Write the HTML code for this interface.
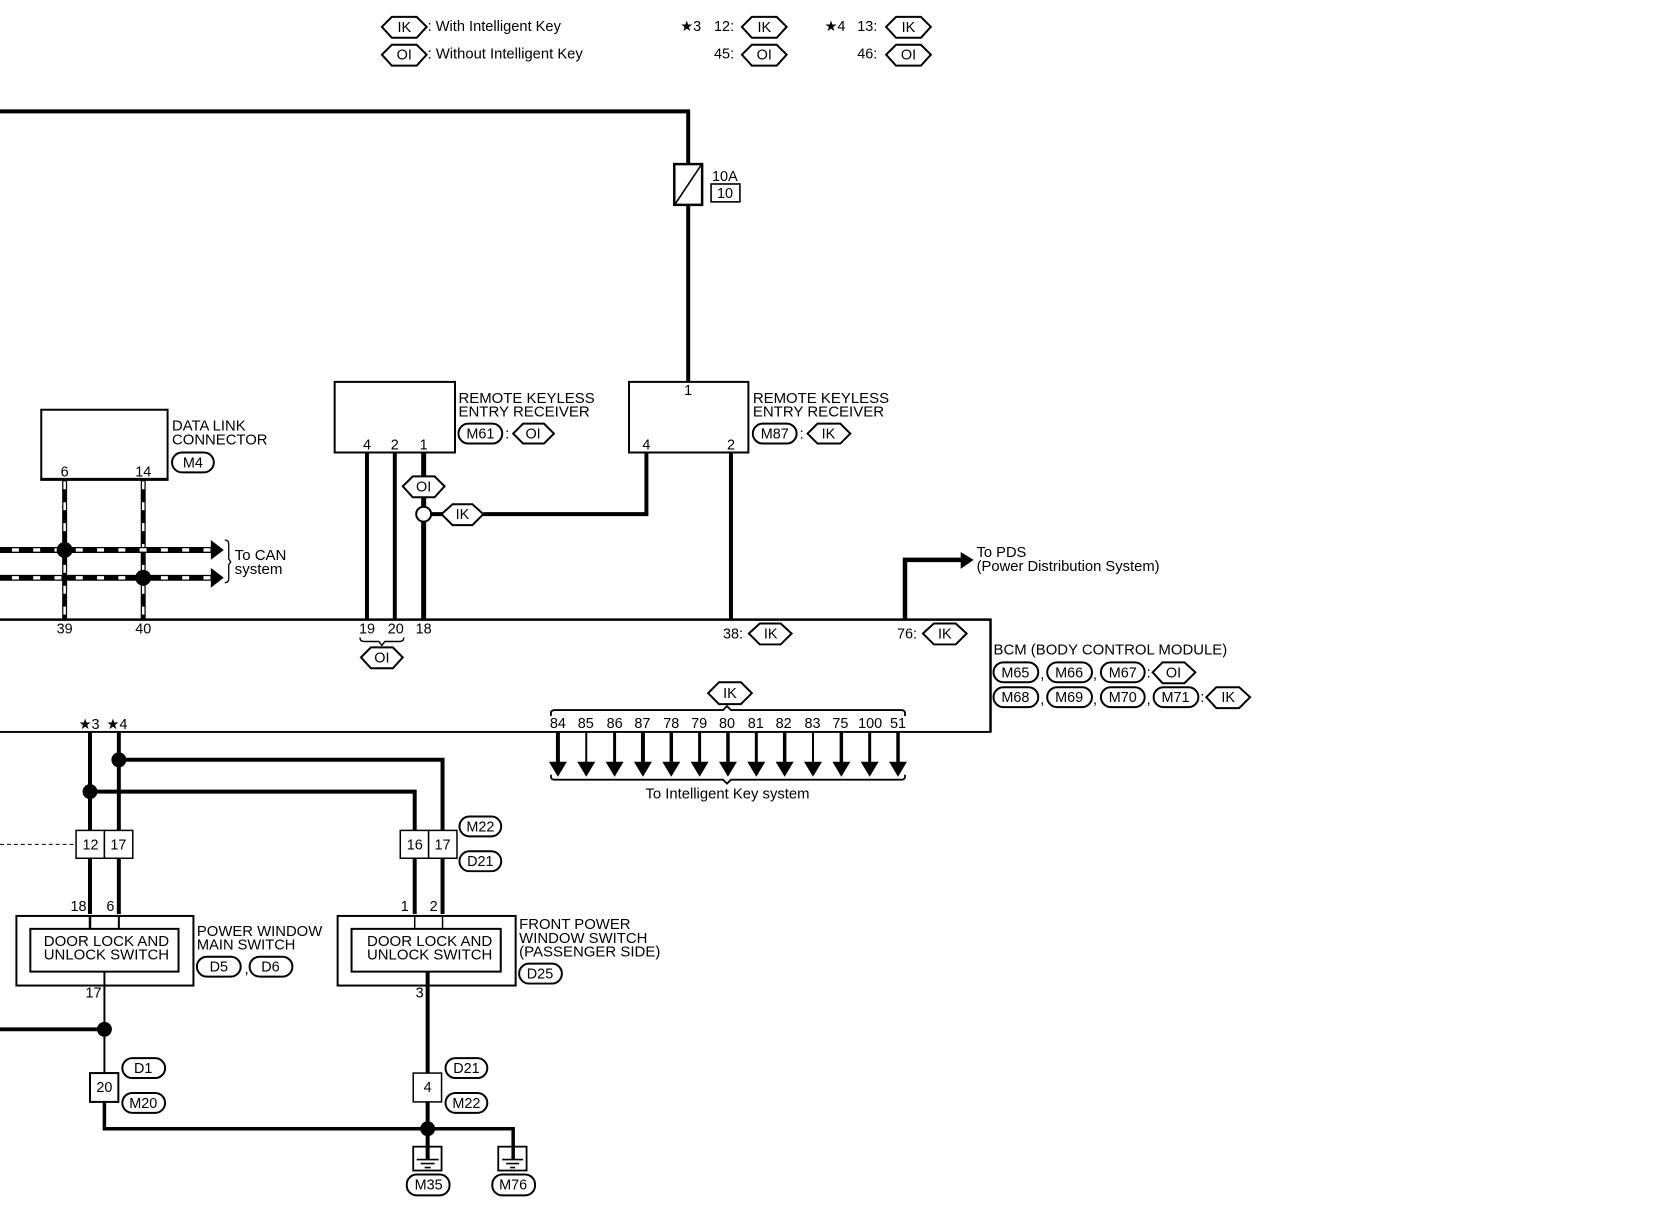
<!DOCTYPE html>
<html><head><meta charset="utf-8"><title>Wiring diagram</title>
<style>
html,body{margin:0;padding:0;background:#fff;width:1660px;height:1216px;overflow:hidden}
svg{display:block}
text{font-family:"Liberation Sans",sans-serif;font-size:14.5px;fill:#000}
.m{text-anchor:middle}
.n{font-size:14.5px}
.h{fill:#fff;stroke:#000;stroke-width:2}
.p{fill:#fff;stroke:#000;stroke-width:2}
.b{fill:#fff;stroke:#000;stroke-width:2}
.w{fill:none;stroke:#000;stroke-width:4}
</style></head><body>
<svg xmlns="http://www.w3.org/2000/svg" width="1660" height="1216" viewBox="0 0 1660 1216">
<rect width="1660" height="1216" fill="#fff"/>
<g transform="scale(0.9945)">

<!-- top legend -->
<polygon class="h" points="384,27 394,17 419,17 429,27 419,38 394,38"/><text class="m" x="406.500" y="32">IK</text>
<text x="430" y="31" textLength="134" lengthAdjust="spacingAndGlyphs">: With Intelligent Key</text>
<polygon class="h" points="384,55 394,45 419,45 429,55 419,66 394,66"/><text class="m" x="406.500" y="60">OI</text>
<text x="430" y="59" textLength="156" lengthAdjust="spacingAndGlyphs">: Without Intelligent Key</text>
<text x="684" y="31">★3</text><text x="718" y="31">12:</text>
<polygon class="h" points="746,27 756,17 781,17 791,27 781,38 756,38"/><text class="m" x="768.500" y="32">IK</text>
<text x="718" y="59">45:</text>
<polygon class="h" points="746,55 756,45 781,45 791,55 781,66 756,66"/><text class="m" x="768.500" y="60">OI</text>
<text x="829" y="31">★4</text><text x="862" y="31">13:</text>
<polygon class="h" points="891,27 901,17 926,17 936,27 926,38 901,38"/><text class="m" x="913.500" y="32">IK</text>
<text x="862" y="59">46:</text>
<polygon class="h" points="891,55 901,45 926,45 936,55 926,66 901,66"/><text class="m" x="913.500" y="60">OI</text>

<!-- top wire and fuse -->
<polyline class="w" points="0,112 692,112 692,384"/>
<rect x="678" y="165" width="28" height="41" fill="#fff" stroke="#000" stroke-width="2.5"/>
<line x1="679" y1="205" x2="705" y2="166" stroke="#000" stroke-width="1.6"/>
<text x="716" y="182" class="n">10A</text>
<rect x="715" y="185" width="29" height="18" fill="#fff" stroke="#000" stroke-width="1.6"/><text class="m n" x="729" y="199">10</text>

<!-- Receivers -->
<rect x="336.500" y="384" width="121" height="71" fill="#fff" stroke="#000" stroke-width="2"/>
<text class="m n" x="369" y="452">4</text><text class="m n" x="397" y="452">2</text><text class="m n" x="426" y="452">1</text>
<text x="461" y="405" textLength="137" lengthAdjust="spacingAndGlyphs">REMOTE KEYLESS</text>
<text x="461" y="419" textLength="132" lengthAdjust="spacingAndGlyphs">ENTRY RECEIVER</text>
<rect class="p" x="461" y="426" width="44" height="20" rx="10"/><text class="m" x="483" y="441">M61</text>
<text x="508" y="441">:</text>
<polygon class="h" points="516,436 526,426 547,426 557,436 547,446 526,446"/><text class="m" x="536" y="441">OI</text>

<rect x="632.500" y="384" width="120" height="71" fill="#fff" stroke="#000" stroke-width="2"/>
<text class="m n" x="692" y="397">1</text><text class="m n" x="650" y="452">4</text><text class="m n" x="735" y="452">2</text>
<text x="757" y="405" textLength="137" lengthAdjust="spacingAndGlyphs">REMOTE KEYLESS</text>
<text x="757" y="419" textLength="132" lengthAdjust="spacingAndGlyphs">ENTRY RECEIVER</text>
<rect class="p" x="757" y="426" width="44" height="20" rx="10"/><text class="m" x="779" y="441">M87</text>
<text x="804" y="441">:</text>
<polygon class="h" points="812,436 822,426 845,426 855,436 845,446 822,446"/><text class="m" x="833" y="441">IK</text>

<!-- wires to BCM -->
<line class="w" x1="369" y1="455" x2="369" y2="623"/>
<line class="w" x1="397" y1="455" x2="397" y2="623"/>
<line class="w" x1="426" y1="455" x2="426" y2="623" style="stroke-width:5"/>
<polyline class="w" points="486,517 650,517 650,455"/>
<line class="w" x1="735" y1="455" x2="735" y2="623"/>
<polygon class="h" points="405,489 415,479 437,479 447,489 437,500 415,500"/><text class="m" x="426" y="494">OI</text>
<line class="w" x1="426" y1="517" x2="446" y2="517"/>
<circle cx="426" cy="517" r="7.500" fill="#fff" stroke="#000" stroke-width="2"/>
<polygon class="h" points="444,517 455,507 475,507 486,517 475,528 455,528"/><text class="m" x="465" y="522">IK</text>

<!-- Data link connector -->
<rect x="41.500" y="412" width="127" height="70" fill="#fff" stroke="#000" stroke-width="2"/>
<line x1="40.500" y1="482" x2="169.500" y2="482" stroke="#000" stroke-width="3"/>
<text class="m n" x="65" y="479">6</text><text class="m n" x="144" y="479">14</text>
<text x="173" y="433" textLength="74" lengthAdjust="spacingAndGlyphs">DATA LINK</text>
<text x="173" y="447" textLength="96" lengthAdjust="spacingAndGlyphs">CONNECTOR</text>
<rect class="p" x="173" y="455" width="42" height="20" rx="10"/><text class="m" x="194" y="470">M4</text>

<!-- CAN -->
<line x1="65" y1="482" x2="65" y2="623" stroke="#000" stroke-width="5"/>
<line x1="144" y1="482" x2="144" y2="623" stroke="#000" stroke-width="5"/>
<line x1="65" y1="484" x2="65" y2="623" stroke="#fff" stroke-width="2.500" stroke-dasharray="8 13"/>
<line x1="144" y1="484" x2="144" y2="623" stroke="#fff" stroke-width="2.500" stroke-dasharray="8 13"/>
<line x1="0" y1="553" x2="213" y2="553" stroke="#000" stroke-width="6"/>
<line x1="0" y1="581" x2="213" y2="581" stroke="#000" stroke-width="6"/>
<line x1="12" y1="553" x2="212" y2="553" stroke="#fff" stroke-width="3.400" stroke-dasharray="7 14.400"/>
<line x1="12" y1="581" x2="212" y2="581" stroke="#fff" stroke-width="3.400" stroke-dasharray="7 14.400"/>
<polygon points="212,543 225,553 212,563" fill="#000"/>
<polygon points="212,571 225,581 212,591" fill="#000"/>
<circle cx="65" cy="553" r="8" fill="#000"/><circle cx="144" cy="581" r="8" fill="#000"/>
<path d="M226,543 Q230,543 230,547 L230,562 L232,565 L230,568 L230,582 Q230,586 226,586" fill="none" stroke="#000" stroke-width="1.300"/>
<text x="236" y="563" textLength="52" lengthAdjust="spacingAndGlyphs">To CAN</text>
<text x="236" y="577" textLength="48" lengthAdjust="spacingAndGlyphs">system</text>

<!-- BCM outline -->
<polyline fill="none" stroke="#000" stroke-width="2.500" points="0,623 996,623 996,736"/>
<line x1="0" y1="736" x2="997" y2="736" stroke="#000" stroke-width="1.800"/>
<text class="m n" x="65" y="637">39</text><text class="m n" x="144" y="637">40</text>
<text class="m n" x="369" y="637">19</text><text class="m n" x="398" y="637">20</text><text class="m n" x="426" y="637">18</text>
<path d="M362,641 Q362,645 366,645 L381,645 L384,649 L387,645 L402,645 Q406,645 406,641" fill="none" stroke="#000" stroke-width="1.500"/>
<polygon class="h" points="363,661 373,651 395,651 405,661 395,672 373,672"/><text class="m" x="384" y="666">OI</text>

<text class="n" x="727" y="642">38:</text>
<polygon class="h" points="753,637 764,627 785,627 796,637 785,648 764,648"/><text class="m" x="775" y="642">IK</text>
<text class="n" x="902" y="642">76:</text>
<polygon class="h" points="928,637 939,627 961,627 972,637 961,648 939,648"/><text class="m" x="950" y="642">IK</text>

<!-- PDS -->
<polyline class="w" style="stroke-width:4.500" points="910,623 910,563 968,563"/>
<polygon points="966,555 979,563 966,572" fill="#000"/>
<text x="982" y="560" textLength="50" lengthAdjust="spacingAndGlyphs">To PDS</text>
<text x="982" y="574" textLength="184" lengthAdjust="spacingAndGlyphs">(Power Distribution System)</text>

<!-- BCM label -->
<text x="999" y="658" textLength="235" lengthAdjust="spacingAndGlyphs">BCM (BODY CONTROL MODULE)</text>
<rect class="p" x="999" y="666" width="45" height="20" rx="10"/><text class="m" x="1021" y="681">M65</text><text x="1046" y="683">,</text>
<rect class="p" x="1053" y="666" width="45" height="20" rx="10"/><text class="m" x="1075" y="681">M66</text><text x="1099" y="683">,</text>
<rect class="p" x="1107" y="666" width="44" height="20" rx="10"/><text class="m" x="1129" y="681">M67</text><text x="1153" y="681">:</text>
<polygon class="h" points="1159,676 1169,666 1191,666 1202,676 1191,687 1169,687"/><text class="m" x="1180" y="681">OI</text>
<rect class="p" x="999" y="691" width="45" height="20" rx="10"/><text class="m" x="1021" y="706">M68</text><text x="1046" y="708">,</text>
<rect class="p" x="1053" y="691" width="45" height="20" rx="10"/><text class="m" x="1075" y="706">M69</text><text x="1099" y="708">,</text>
<rect class="p" x="1107" y="691" width="44" height="20" rx="10"/><text class="m" x="1129" y="706">M70</text><text x="1153" y="708">,</text>
<rect class="p" x="1160" y="691" width="45" height="20" rx="10"/><text class="m" x="1182" y="706">M71</text><text x="1207" y="706">:</text>
<polygon class="h" points="1213,701 1223,691 1246,691 1257,701 1246,712 1223,712"/><text class="m" x="1235" y="706">IK</text>

<!-- IK group -->
<polygon class="h" points="712,697 723,686 745,686 756,697 745,708 723,708"/><text class="m" x="734" y="702">IK</text>
<path d="M554,720 L554,717 Q554,714 558,714 L727,714 L731,710 L735,714 L906,714 Q910,714 910,717 L910,720" fill="none" stroke="#000" stroke-width="1.800"/>
<g>
<text class="m n" x="561" y="732">84</text><text class="m n" x="589" y="732">85</text><text class="m n" x="618" y="732">86</text><text class="m n" x="646" y="732">87</text><text class="m n" x="675" y="732">78</text><text class="m n" x="703" y="732">79</text><text class="m n" x="731" y="732">80</text><text class="m n" x="760" y="732">81</text><text class="m n" x="788" y="732">82</text><text class="m n" x="817" y="732">83</text><text class="m n" x="845" y="732">75</text><text class="m n" x="875" y="732">100</text><text class="m n" x="903" y="732">51</text>
</g>
<g stroke="#000" stroke-width="3">
<line x1="561" y1="736" x2="561" y2="770" stroke-width="4"/><line x1="589.500" y1="736" x2="589.500" y2="770" stroke-width="2"/><line x1="618" y1="736" x2="618" y2="770"/><line x1="646.500" y1="736" x2="646.500" y2="770" stroke-width="4"/><line x1="675" y1="736" x2="675" y2="770" stroke-width="3.500"/><line x1="703.500" y1="736" x2="703.500" y2="770"/><line x1="732" y1="736" x2="732" y2="770" stroke-width="3.500"/><line x1="760.500" y1="736" x2="760.500" y2="770"/><line x1="789" y1="736" x2="789" y2="770" stroke-width="3.500"/><line x1="817.500" y1="736" x2="817.500" y2="770" stroke-width="2"/><line x1="846" y1="736" x2="846" y2="770" stroke-width="3.500"/><line x1="874.500" y1="736" x2="874.500" y2="770"/><line x1="903" y1="736" x2="903" y2="770" stroke-width="3.500"/>
</g>
<g fill="#000">
<polygon points="552,766 570,766 561,781"/><polygon points="580.500,766 598.500,766 589.500,781"/><polygon points="609,766 627,766 618,781"/><polygon points="637.500,766 655.500,766 646.500,781"/><polygon points="666,766 684,766 675,781"/><polygon points="694.500,766 712.500,766 703.500,781"/><polygon points="723,766 741,766 732,781"/><polygon points="751.500,766 769.500,766 760.500,781"/><polygon points="780,766 798,766 789,781"/><polygon points="808.500,766 826.500,766 817.500,781"/><polygon points="837,766 855,766 846,781"/><polygon points="865.500,766 883.500,766 874.500,781"/><polygon points="894,766 912,766 903,781"/>
</g>
<path d="M554,779 L554,781 Q554,784 558,784 L727,784 L731,788 L735,784 L906,784 Q910,784 910,781 L910,779" fill="none" stroke="#000" stroke-width="1.800"/>
<text x="649" y="803" textLength="165" lengthAdjust="spacingAndGlyphs">To Intelligent Key system</text>

<!-- *3 *4 -->
<text x="79" y="733">★3</text><text x="107" y="733">★4</text>
<line class="w" x1="90.500" y1="736" x2="90.500" y2="919"/>
<line class="w" x1="119.500" y1="736" x2="119.500" y2="919"/>
<polyline class="w" points="119.500,764 445,764 445,919"/>
<polyline class="w" points="90.500,796 417,796 417,919"/>
<circle cx="119.500" cy="764" r="7.500" fill="#000"/><circle cx="90.500" cy="796" r="7.500" fill="#000"/>
<line x1="0" y1="849" x2="76" y2="849" stroke="#000" stroke-width="1" stroke-dasharray="4 3"/>
<rect x="76.500" y="835" width="28.500" height="28" class="b" style="stroke-width:1.500"/><rect x="105" y="835" width="28.500" height="28" class="b" style="stroke-width:1.500"/>
<text class="m" x="91" y="854">12</text><text class="m" x="119" y="854">17</text>
<rect x="402.500" y="835" width="28.500" height="28" class="b" style="stroke-width:1.500"/><rect x="431" y="835" width="28.500" height="28" class="b" style="stroke-width:1.500"/>
<text class="m" x="417" y="854">16</text><text class="m" x="445" y="854">17</text>
<rect class="p" x="462" y="821" width="42" height="20" rx="10"/><text class="m" x="483" y="836">M22</text>
<rect class="p" x="462" y="856" width="42" height="20" rx="10"/><text class="m" x="483" y="871">D21</text>

<!-- switches -->
<rect x="16.500" y="921" width="178" height="70" fill="#fff" stroke="#000" stroke-width="2"/>
<rect x="30.500" y="934" width="149" height="43" fill="#fff" stroke="#000" stroke-width="2"/>
<line x1="90.500" y1="921" x2="90.500" y2="934" stroke="#000" stroke-width="2.500"/><line x1="119.500" y1="921" x2="119.500" y2="934" stroke="#000" stroke-width="2"/>
<text class="m" x="107" y="951" textLength="126" lengthAdjust="spacingAndGlyphs">DOOR LOCK AND</text>
<text class="m" x="107" y="965" textLength="126" lengthAdjust="spacingAndGlyphs">UNLOCK SWITCH</text>
<text class="m n" x="79" y="916">18</text><text class="m n" x="111" y="916">6</text>
<text x="198" y="941" textLength="126" lengthAdjust="spacingAndGlyphs">POWER WINDOW</text>
<text x="198" y="955" textLength="99" lengthAdjust="spacingAndGlyphs">MAIN SWITCH</text>
<rect class="p" x="198" y="962" width="44" height="20" rx="10"/><text class="m" x="220" y="977">D5</text><text x="246" y="979">,</text>
<rect class="p" x="251" y="962" width="43" height="20" rx="10"/><text class="m" x="272" y="977">D6</text>

<rect x="339.500" y="921" width="179" height="70" fill="#fff" stroke="#000" stroke-width="2"/>
<rect x="353.500" y="934" width="150" height="43" fill="#fff" stroke="#000" stroke-width="2"/>
<line x1="417" y1="921" x2="417" y2="934" stroke="#000" stroke-width="1.500"/><line x1="445" y1="921" x2="445" y2="934" stroke="#000" stroke-width="1.500"/>
<text class="m" x="432" y="951" textLength="126" lengthAdjust="spacingAndGlyphs">DOOR LOCK AND</text>
<text class="m" x="432" y="965" textLength="126" lengthAdjust="spacingAndGlyphs">UNLOCK SWITCH</text>
<text class="m n" x="407" y="916">1</text><text class="m n" x="436" y="916">2</text>
<text x="522" y="934" textLength="112" lengthAdjust="spacingAndGlyphs">FRONT POWER</text>
<text x="522" y="948" textLength="129" lengthAdjust="spacingAndGlyphs">WINDOW SWITCH</text>
<text x="522" y="962" textLength="142" lengthAdjust="spacingAndGlyphs">(PASSENGER SIDE)</text>
<rect class="p" x="522" y="969" width="43" height="20" rx="10"/><text class="m" x="543" y="984">D25</text>

<!-- lower wires -->
<line x1="105" y1="977" x2="105" y2="1079" stroke="#000" stroke-width="2"/>
<line x1="0" y1="1035" x2="105" y2="1035" stroke="#000" stroke-width="4"/>
<circle cx="105" cy="1035" r="7.500" fill="#000"/>
<text class="m n" x="94" y="1003">17</text><text class="m n" x="422" y="1003">3</text>
<line x1="430" y1="977" x2="430" y2="1079" stroke="#000" stroke-width="4"/>
<polyline fill="none" stroke="#000" stroke-width="3.500" points="105,1108 105,1135 516,1135 516,1166"/>
<line x1="430" y1="1108" x2="430" y2="1166" stroke="#000" stroke-width="4"/>
<circle cx="430" cy="1135" r="7.500" fill="#000"/>
<rect x="90.500" y="1079" width="28.500" height="29" class="b" style="stroke-width:2"/><text class="m" x="105" y="1098">20</text>
<rect x="415.500" y="1079" width="28.500" height="29" class="b" style="stroke-width:1.500"/><text class="m" x="430" y="1098">4</text>
<rect class="p" x="123" y="1064" width="43" height="20" rx="10"/><text class="m" x="144" y="1079">D1</text>
<rect class="p" x="123" y="1099" width="43" height="20" rx="10"/><text class="m" x="144" y="1114">M20</text>
<rect class="p" x="448" y="1064" width="42" height="20" rx="10"/><text class="m" x="469" y="1079">D21</text>
<rect class="p" x="448" y="1099" width="42" height="20" rx="10"/><text class="m" x="469" y="1114">M22</text>

<!-- grounds -->
<rect x="415.500" y="1153" width="28.500" height="24" fill="none" stroke="#000" stroke-width="1.800"/>
<rect x="501" y="1153" width="28.500" height="24" fill="none" stroke="#000" stroke-width="1.800"/>
<g stroke="#000" stroke-width="1.600">
<line x1="419" y1="1166" x2="441" y2="1166"/><line x1="423" y1="1170" x2="437" y2="1170"/><line x1="427" y1="1174" x2="433" y2="1174"/>
<line x1="505" y1="1166" x2="526" y2="1166"/><line x1="509" y1="1170" x2="522" y2="1170"/><line x1="513" y1="1174" x2="518" y2="1174"/>
</g>
<rect class="p" x="409" y="1181" width="43" height="21" rx="10"/><text class="m" x="431" y="1196">M35</text>
<rect class="p" x="495" y="1181" width="43" height="21" rx="10"/><text class="m" x="516" y="1196">M76</text>
</g>
</svg>
</body></html>
